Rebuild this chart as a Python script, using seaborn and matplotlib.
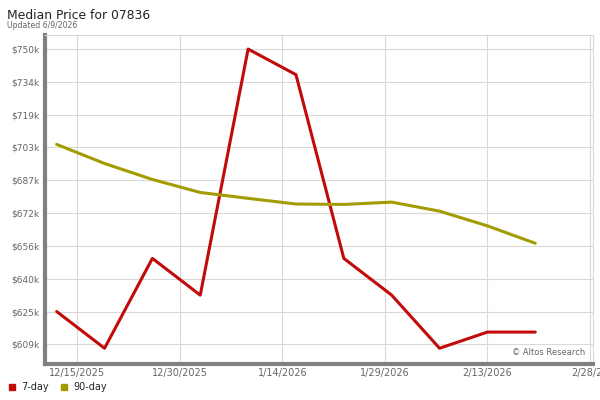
import matplotlib
matplotlib.use("Agg")
import matplotlib.pyplot as plt
from matplotlib.lines import Line2D
import seaborn as sns
import pandas as pd

dates = ["2025-12-12", "2025-12-19", "2025-12-26", "2026-01-02", "2026-01-09",
         "2026-01-16", "2026-01-23", "2026-01-30", "2026-02-06", "2026-02-13",
         "2026-02-20"]
seven_day = [625.0, 607.5, 650.3, 632.8, 750.0, 737.8, 650.3, 632.8, 607.5, 615.2, 615.2]
ninety_day = [704.6, 695.5, 687.9, 681.7, 678.9, 676.2, 676.0, 677.1, 672.8, 665.8, 657.5]
series_names = ["7-day", "90-day"]
colors = ["#c20a0a", "#a39c00"]

y_tick_values = [609.375, 625.0, 640.625, 656.25, 671.875, 687.5, 703.125, 718.75, 734.375, 750.0]
y_tick_labels = ["$609k", "$625k", "$640k", "$656k", "$672k", "$687k", "$703k", "$719k", "$734k", "$750k"]
x_tick_dates = ["2025-12-15", "2025-12-30", "2026-01-14", "2026-01-29", "2026-02-13", "2026-02-28"]
x_tick_labels = ["12/15/2025", "12/30/2025", "1/14/2026", "1/29/2026", "2/13/2026", "2/28/20"]

df = pd.DataFrame({
    "date": pd.to_datetime(dates * 2),
    "price": seven_day + ninety_day,
    "series": [series_names[0]] * len(dates) + [series_names[1]] * len(dates),
})

sns.set_theme(style="white")
plt.rcParams["font.family"] = ["DejaVu Sans"]

fig = plt.figure(figsize=(6, 4), dpi=100)
ax = fig.add_axes([0.075, 0.09, 0.913, 0.8225])

sns.lineplot(data=df, x="date", y="price", hue="series", palette=colors,
             linewidth=2.2, ax=ax, legend=False, zorder=3)

ax.set_ylim(600.0, 756.7)
ax.set_xlim(pd.Timestamp("2025-12-10 07:00"), pd.Timestamp("2026-02-28 10:00"))
ax.set_yticks(y_tick_values)
ax.set_yticklabels(y_tick_labels)
ax.set_xticks(pd.to_datetime(x_tick_dates))
ax.set_xticklabels(x_tick_labels)
ax.set_xlabel("")
ax.set_ylabel("")

ax.grid(True, color="#d9d9d9", linewidth=0.8)
ax.tick_params(axis="both", length=0, labelsize=6.5, labelcolor="#666666", pad=4)
for lab in ax.get_xticklabels():
    lab.set_fontsize(7)
ax.tick_params(axis="x", pad=3)

for s in ["top", "right"]:
    ax.spines[s].set_color("#d9d9d9")
    ax.spines[s].set_linewidth(0.8)
for s in ["left", "bottom"]:
    ax.spines[s].set_color("#808080")
    ax.spines[s].set_linewidth(3)

ax.text(0.986, 0.02, "\u00a9 Altos Research", transform=ax.transAxes,
        ha="right", va="bottom", fontsize=6, color="#666666")

fig.text(0.012, 0.962, "Median Price for 07836", fontsize=8.9, color="#222222",
         ha="left", va="center")
fig.text(0.012, 0.936, "Updated 6/9/2026", fontsize=5.6, color="#666666",
         ha="left", va="center")

handles = [Line2D([0], [0], marker="s", linestyle="none", markersize=5,
                  markerfacecolor=c, markeredgecolor=c) for c in colors]
fig.legend(handles, series_names, loc="center left", bbox_to_anchor=(0.002, 0.032),
           ncol=2, frameon=False, fontsize=7, handlelength=0.8, handletextpad=0.6,
           columnspacing=1.1, borderpad=0.2)

fig.savefig("out.png", dpi=100)
